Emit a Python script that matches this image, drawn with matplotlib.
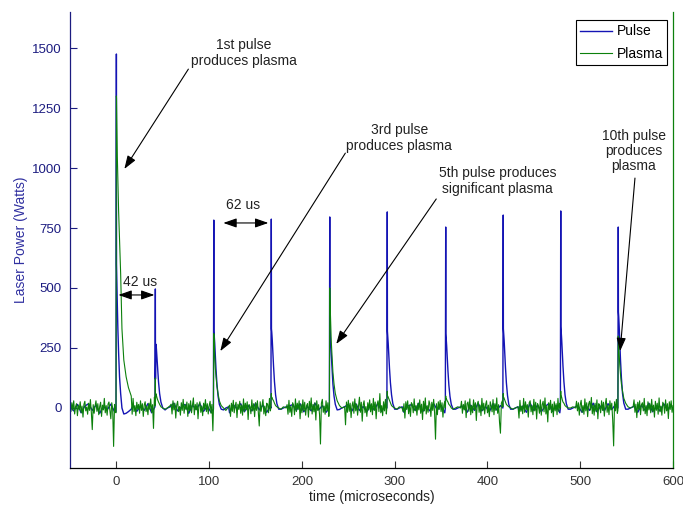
import numpy as np
import matplotlib
matplotlib.use("Agg")
import matplotlib.pyplot as plt

plt.rcParams['font.family'] = ['Liberation Sans', 'DejaVu Sans']

# ---------------- data ----------------
pulse_times = [0, 42, 105, 167, 230, 292, 355, 417, 479, 541]
pulse_offsets = [-0.4, 0, 0.15, 0.5, 1, 1.6, 2.4, 3.4, 4.6, 6, 8, 10.5, 13, 16]

pulse_shapes = [
    [-15, 1475, 600, 520, 430, 330, 230, 130, 60, 0, -25, -22, -15, -5],
    [5, 496, 120, 266, 255, 220, 170, 110, 60, 25, 0, -8, 0, 5],
    [-5, 783, 320, 300, 270, 220, 160, 100, 50, 15, -5, -8, 0, 5],
    [0, 787, 330, 315, 285, 235, 175, 110, 55, 18, -5, -5, 0, 5],
    [0, 796, 330, 305, 275, 225, 165, 100, 50, 15, -8, -6, 0, 5],
    [0, 817, 320, 300, 270, 225, 165, 105, 55, 18, -5, -5, 0, 5],
    [0, 754, 310, 290, 260, 215, 155, 95, 48, 15, -5, -5, 0, 5],
    [0, 804, 330, 310, 280, 230, 170, 105, 52, 15, -5, -5, 0, 5],
    [0, 821, 340, 320, 285, 235, 175, 110, 55, 18, -5, -5, 0, 5],
    [0, 754, 400, 380, 340, 280, 200, 125, 60, 20, -5, -5, 0, 5],
]

plasma_shapes = [
    [-20, 1300, 1290, 1200, 1050, 950, 820, 700, 560, 330, 200, 130, 85, 50],
    [10, 125, 30, 60, 55, 45, 35, 25, 15, 5, 0, -5, 0, 10],
    [-10, 310, 300, 260, 220, 170, 130, 90, 60, 30, 10, 0, -10, 5],
    [5, 60, 40, 45, 40, 35, 30, 20, 10, 5, 0, -5, 5, 0],
    [-10, 500, 480, 420, 350, 280, 220, 150, 100, 60, 30, 10, 0, 5],
    [5, 70, 50, 50, 45, 40, 30, 20, 10, 5, 0, -5, 5, 0],
    [0, 50, 40, 40, 35, 30, 25, 15, 10, 0, -5, 0, 5, 0],
    [5, 60, 45, 45, 40, 35, 25, 15, 10, 5, 0, -5, 0, 5],
    [0, 70, 50, 50, 45, 35, 25, 20, 10, 5, 0, 0, 5, 0],
    [-10, 300, 290, 260, 220, 180, 140, 100, 70, 40, 20, 5, 0, 5],
]

# baseline readings of the plasma trace, every 1 us from -50 to 600
plasma_baseline_start, plasma_baseline_step = -50, 1
plasma_baseline = [
    10, -15, 22, -8, 30, -25, 5, 18, -32, 12, -6, 26, -20, 8, -38, 15, 28, -12, 4, -26, 20, -10, 35, -18, -90,
    14, -22, 8, 30, -14, 18, -28, 6, 24, -35, 12, -8, 40, -20, 10, -30, 16, 25, -12, -45, 22, -6, -160, 15, -18,
    20, -12, 30, -25, 8, 15, -20, 35, -10, 22, -30, 12, 5, -18, 28, -8, 18, -26, 40, -15, 10, -32, 24, -5, 15,
    -22, 30, -10, 18, -35, 12, 26, -15, 8, -28, 20, -5, 38, -18, 14, -85, 45, -20, 10, 22, -12, 30, -25, 15, -8,
    -30, 18, 8, -20, 33, -12, 24, -38, 10, 16, -25, 30, -8, 20, -42, 12, 28, -15, 6, -30, 22, -10, 36, -22, 14,
    -6, 25, -35, 18, -12, 30, -20, 10, 42, -28, 15, -8, 22, -45, 12, 26, -18, 8, -32, 20, -5, 35, -15, 18, -25,
    10, 28, -22, 15, -95, 20, -10, 30, -15, 8, -20, 25, -12, 18, -28, 10, 22, -8, 15, -18, 30, -10, 12, -35, 20,
    -14, 32, -20, 8, 24, -40, 16, -6, 28, -22, 12, -30, 38, -15, 20, -8, 26, -48, 14, 6, -24, 34, -12, 18, -36,
    22, -10, 30, -18, -75, 26, -14, 12, 35, -25, 8, -32, 20, 15, -20, 40, -12, 10, -25, 18, -8, 28, -15, 6, -30,
    24, -12, 36, -22, 10, -40, 18, 28, -10, 14, -26, 32, -18, 8, -35, 22, 12, -28, 38, -15, 20, -6, 30, -45, 16,
    -20, 34, -12, 24, -30, 10, 18, -38, 28, -8, 42, -25, 15, -16, 22, -50, 30, -10, 14, -28, -150, 20, 36, -18, 8,
    -26, 30, -12, 22, -35, 15, 25, -20, 10, -30, 18, -8, 28, -15, 12, -22, 35, -10, 20, -28, 14, 8, -70, 25, -18,
    32, -14, 20, -40, 10, 26, -22, 38, -12, 16, -30, 8, 45, -18, 24, -55, 12, 30, -20, 6, -35, 22, -8, 34, -16,
    18, -28, 40, -10, 25, -45, 14, 30, -15, 60, -20, 10, -32, 26, -12, 36, -25, 18, -8, 28, -38, 12, 22, -18, 30,
    -10, 24, -36, 14, 32, -20, 8, -28, 40, -15, 18, -42, 26, -6, 30, -24, 12, -35, 22, 15, -20, 38, -12, 10, -30,
    20, -8, 34, -22, 16, -48, 28, -12, 42, -25, 10, -18, 30, 14, -35, 24, -10, 36, -20, -130, 18, -28, 26, -6, 32,
    -15, 22, -38, 12, 28, -20, 40, -10, 16, -30, 24, -45, 14, 32, -18, 8, -26, 36, -12, 20, -34, 10, 28, -22, 15,
    -8, 30, -40, 18, 25, -14, 38, -28, 10, -20, 34, -6, 22, -52, 16, 28, -18, 12, -32, 40, -10, 20, -25, 14, 30,
    -20, 12, -36, 26, 8, -16, 35, -28, 18, -10, 42, -22, 14, -60, -105, 20, 30, -14, 24, -30, 10, -18, 36, -8, 22,
    -26, 16, 38, -20, 12, -34, 28, -10, 20, -42, 32, -14, 8, -24, 40, -18, 26, -6, 14, -38, 22, 30, -16, 10, -28,
    36, -12, 24, -46, 18, 8, -22, 34, -30, 14, 28, -16, 42, -25, 10, -58, 22, -8, 32, -20, 16, -36, 26, -12, 18,
    -28, 40, -14, 20, -32, 12, 30, -22, 8, -18, 38, -10, 24, -40, 14, 26, -20, 36, -6, 18, -62, 28, -12, 22, -30,
    14, 32, -18, 10, -26, 38, -12, 22, -36, 16, 28, -8, 44, -24, 12, -30, 20, -14, 34, -45, 18, 8, -20, 30, -10,
    24, -34, 16, 40, -18, 12, -28, 30, -8, 20, -50, -158, 26, -12, 36, -22, 10, -30, 22, 14, -16, 32, -10, 18, -26,
    38, -14, 20, -36, 12, 28, -22, 8, 34, -18, 16, -40, 24, -6, 30, -28, 14, 22, -12, 40, -24, 10, -32, 26, -8,
    18, -20, 36, -14, 12, -38, 28, -10, 20, -26, 42, -16, 8, -30, 24, 14, -22, 34, -12, 18, -44, 26, -6, 30, -18,
    10,
]

# baseline readings of the pulse trace, every 4 us from -50 to 600
pulse_baseline_start, pulse_baseline_step = -50, 4
pulse_baseline = [
    5, -12, 15, -20, 8, 18, -10, 12, -22, 6, -8, 16, -15, 10, -18, 20, -5, 12, -14, 8,
    -10, 18, -20, 6, 14, -16, 10, -8, 20, -12, 4, 15, -22, 12, -6, 18, -14, 8, -18, 10,
    16, -10, 6, -20, 14, -4, 18, -16, 10, -12, 20, -8, 12, -18, 6, 15, -14, 10, -22, 8,
    14, -10, 18, -16, 6, -12, 20, -8, 10, -18, 16, -6, 12, -20, 8, 15, -12, 18, -10, 6,
    -16, 12, -8, 20, -14, 10, -20, 16, -6, 12, -18, 8, 14, -10, 20, -16, 6, -12, 18, -8,
    10, -20, 14, -6, 16, -14, 8, -18, 12, -10, 20, -12, 6, -16, 18, -8, 10, -20, 14, -6,
    16, -12, 8, -18, 20, -10, 12, -16, 6, 18, -14, 10, -20, 14, -8, 16, -12, 6, -18, 12,
    -10, 20, -16, 8, -12, 18, -6, 14, -20, 10, 16, -14, 8, -18, 12, -10, 20, -16, 6, -12,
    18, -8, 14,
]


def build_trace(base_vals, base_start, base_step, shapes):
    bt = base_start + base_step * np.arange(len(base_vals))
    bv = np.asarray(base_vals, dtype=float)
    keep = np.ones(len(bt), dtype=bool)
    ts, vs = [], []
    for tp, shape in zip(pulse_times, shapes):
        keep &= ~((bt >= tp + pulse_offsets[0] - 0.1) & (bt <= tp + pulse_offsets[-1] + 0.5))
        ts.append(tp + np.asarray(pulse_offsets))
        vs.append(np.asarray(shape, dtype=float))
    t = np.concatenate([bt[keep]] + ts)
    v = np.concatenate([bv[keep]] + vs)
    order = np.argsort(t, kind='stable')
    return t[order], v[order]


t_pulse, v_pulse = build_trace(pulse_baseline, pulse_baseline_start, pulse_baseline_step, pulse_shapes)
t_plasma, v_plasma = build_trace(plasma_baseline, plasma_baseline_start, plasma_baseline_step, plasma_shapes)

# ---------------- figure ----------------
BLUE = '#1414b4'
GREEN = '#0c800c'
AXBLUE = '#1c1c80'
TXT = 10

fig = plt.figure(figsize=(6.83, 5.08), dpi=100)
ax = fig.add_axes([70 / 683, 40 / 508, 603 / 683, 456 / 508])

ax.plot(t_pulse, v_pulse, color=BLUE, lw=1.0, label='Pulse')
ax.plot(t_plasma, v_plasma, color=GREEN, lw=0.8, label='Plasma')

ax.set_xlim(-50, 600)
ax.set_ylim(-250, 1650)
ax.set_xticks([0, 100, 200, 300, 400, 500, 600])
ax.set_yticks([0, 250, 500, 750, 1000, 1250, 1500])

ax.spines['top'].set_visible(False)
ax.spines['right'].set_color(GREEN)
ax.spines['left'].set_color(AXBLUE)
ax.spines['bottom'].set_color('black')
for s in ax.spines.values():
    s.set_linewidth(0.9)

ax.tick_params(axis='both', direction='in', length=5, width=0.8, labelsize=9.5, pad=6)
ax.tick_params(axis='y', colors=AXBLUE, labelcolor=AXBLUE, right=False)
ax.tick_params(axis='x', colors='#333333', labelcolor='#333333')

ax.set_xlabel('time (microseconds)', fontsize=TXT, color='#222222', labelpad=1)
ax.set_ylabel('Laser Power (Watts)', fontsize=TXT, color='#3030a0', labelpad=3)

leg = ax.legend(loc='upper right', bbox_to_anchor=(0.990, 0.982),
                fancybox=False, framealpha=1, edgecolor='black', fontsize=TXT,
                handlelength=2.3, handletextpad=0.3, borderpad=0.3, labelspacing=0.6,
                borderaxespad=0)
leg.get_frame().set_linewidth(0.8)

arrow_kw = dict(arrowstyle='-|>,head_length=0.8,head_width=0.28', color='black', lw=0.8,
                shrinkA=0, shrinkB=0)
dbl_kw = dict(arrowstyle='<|-|>,head_length=0.8,head_width=0.28', color='black', lw=0.8,
              shrinkA=0, shrinkB=0)

ax.text(137, 1479, '1st pulse\nproduces plasma', ha='center', va='center', fontsize=TXT,
        color='#222222', linespacing=1.1)
ax.annotate('', xy=(8.6, 996), xytext=(77.6, 1412), arrowprops=arrow_kw)

ax.text(305, 1125, '3rd pulse\nproduces plasma', ha='center', va='center', fontsize=TXT,
        color='#222222', linespacing=1.1)
ax.annotate('', xy=(112, 237), xytext=(246.8, 1062), arrowprops=arrow_kw)

ax.text(410.6, 946, '5th pulse produces\nsignificant plasma', ha='center', va='center',
        fontsize=TXT, color='#222222', linespacing=1.1)
ax.annotate('', xy=(237, 267), xytext=(344.8, 871), arrowprops=arrow_kw)

ax.text(557.7, 1071, '10th pulse\nproduces\nplasma', ha='center', va='center', fontsize=TXT,
        color='#222222', linespacing=1.1)
ax.annotate('', xy=(543, 237), xytext=(559, 958), arrowprops=arrow_kw)

ax.text(136.6, 846, '62 us', ha='center', va='center', fontsize=TXT, color='#222222')
ax.annotate('', xy=(115.3, 771), xytext=(163.8, 771), arrowprops=dbl_kw)

ax.text(25.9, 525, '42 us', ha='center', va='center', fontsize=TXT, color='#222222')
ax.annotate('', xy=(2.2, 471), xytext=(41, 471), arrowprops=dbl_kw)

fig.savefig('out.png', dpi=100, facecolor='white')
